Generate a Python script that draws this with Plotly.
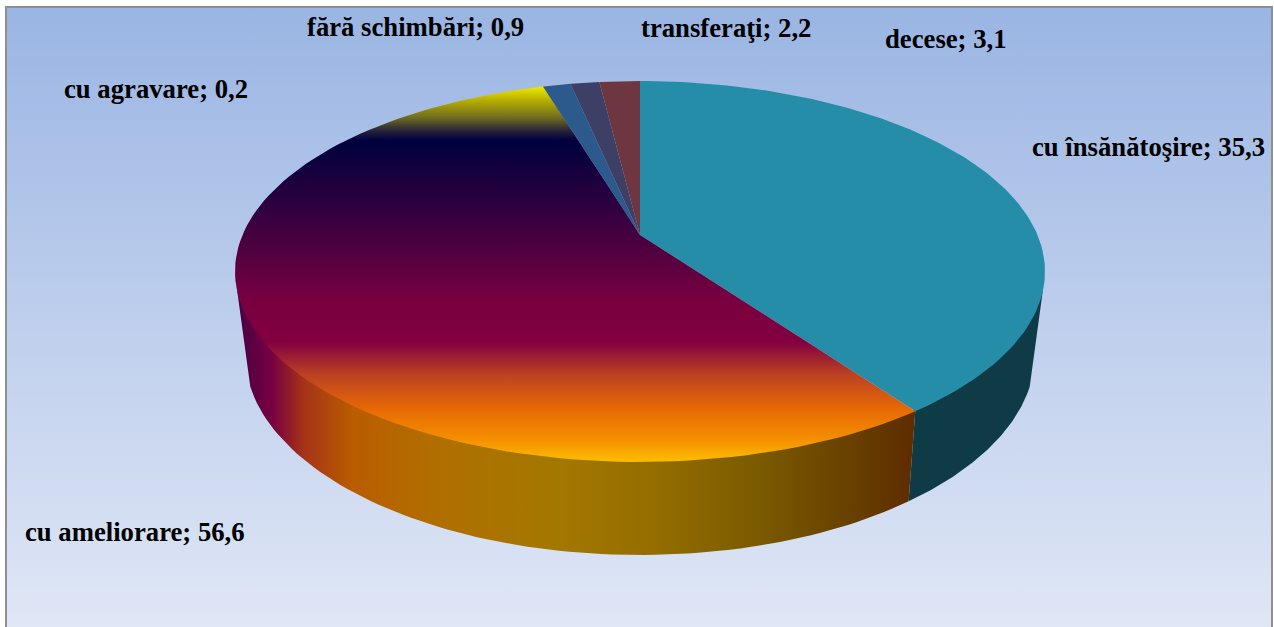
import numpy as np
import plotly.graph_objects as go

categories = ["cu însănătoşire", "cu ameliorare", "cu agravare", "fără schimbări", "transferaţi", "decese"]
values = [35.3, 56.6, 0.2, 0.9, 2.2, 3.1]
label_xy = [(1031, 147), (24, 532), (63, 89), (306, 27), (640, 28), (884, 39)]

W, H = 1274, 627
CX, APEX_Y = 640, 235
TOP_Y, BOT_Y = 81, 462
RX = 405
# perspective of the disc: centre of the pie sits above the centre of the ellipse
C = (BOT_Y + TOP_Y - 2 * APEX_Y) / (BOT_Y - TOP_Y)
A = TOP_Y * (1 + C) - APEX_Y
K = RX * np.sqrt(1 - C ** 2)
EY, RY = (TOP_Y + BOT_Y) / 2, (BOT_Y - TOP_Y) / 2
# lower rim of the wall
B_RX, B_CY, B_RY = 395, 354, 201
TAN_TOP, TAN_BOT = 95.0, 99.4

# The 3D view skews the sweep of the slices: share of the circle -> drawn share
VIEW_IN = [0, 35.91, 93.49, 93.69, 94.61, 96.85, 100]
VIEW_OUT = [0, 40.05, 95.1, 95.33, 96.67, 98.06, 100]


def view_angle(deg):
    return np.interp(deg / 3.6, VIEW_IN, VIEW_OUT) * 3.6


def rim(theta):
    t = np.radians(theta)
    u, v = np.sin(t), np.cos(t)
    d = 1 + C * v
    return CX + K * u / d, (A * v + APEX_Y) / d


def phi_of(theta):
    x, y = rim(theta)
    return np.degrees(np.arctan2((x - CX) / RX, (EY - y) / RY)) % 360


def top_arc(p0, p1, n=80):
    p = np.radians(np.linspace(p0, p1, n))
    return CX + RX * np.sin(p), EY - RY * np.cos(p) - 2


def bot_arc(p0, p1, n=80):
    p = np.radians(np.linspace(p0, p1, n))
    return CX + B_RX * np.sin(p), B_CY - B_RY * np.cos(p)


def vgrad(stops):
    lo, hi = stops[0][0], stops[-1][0]
    return dict(type="vertical", start=lo, stop=hi,
                colorscale=[[(p - lo) / (hi - lo), c] for p, c in stops])


def hgrad(stops):
    lo, hi = stops[0][0], stops[-1][0]
    return dict(type="horizontal", start=lo, stop=hi,
                colorscale=[[(p - lo) / (hi - lo), c] for p, c in stops])


def poly(xs, ys, **kw):
    return go.Scatter(x=xs, y=ys, mode="lines", fill="toself", line=dict(width=0),
                      hoverinfo="skip", showlegend=False, **kw)


sunset = vgrad([(84, "#f8f400"), (100, "#b8b000"), (118, "#6e6a20"), (130, "#2a2638"),
                (140, "#00003e"), (200, "#2a003e"), (250, "#500040"), (300, "#780040"),
                (342, "#820040"), (375, "#bc4222"), (410, "#e86a04"), (440, "#f59000"),
                (464, "#fdc200")])
sunset_wall = hgrad([(240, "#4a0044"), (272, "#780040"), (303, "#a43218"), (352, "#ba5c00"),
                     (430, "#b26e00"), (560, "#a27800"), (650, "#966e00"), (760, "#7a5a00"),
                     (850, "#684000"), (915, "#5e2c00")])
fills = [dict(fillcolor="#258da8"), dict(fillgradient=sunset), dict(fillgradient=sunset),
         dict(fillcolor="#2d5a8c"), dict(fillcolor="#3e3f66"), dict(fillcolor="#6e3640")]

total = sum(values)
cum = np.concatenate([[0], np.cumsum(values)]) / total * 360
edges = [view_angle(c) for c in cum]

fig = go.Figure()

# chart area
fig.add_trace(poly([6, 1272, 1272, 6, 6], [7, 7, 640, 640, 7],
                   fillgradient=vgrad([(7, "#9ab5e3"), (300, "#bccdec"), (640, "#e1e8f6")])))

# walls
phi_b = phi_of(edges[1])
tx, ty = top_arc(TAN_TOP, phi_b)
bx, by = bot_arc(phi_b, TAN_BOT)
fig.add_trace(poly(np.r_[tx, bx, tx[0]], np.r_[ty, by, ty[0]], fillcolor="#0f3b47"))
tx, ty = top_arc(phi_b, 360 - TAN_TOP)
bx, by = bot_arc(360 - TAN_BOT, phi_b)
fig.add_trace(poly(np.r_[tx, bx, tx[0]], np.r_[ty, by, ty[0]], fillgradient=sunset_wall))

# top faces (the agravare sliver shares the gradient, so the ameliorare face runs under it)
for i, name in enumerate(categories):
    end = edges[3] if i == 1 else edges[i + 1]
    x, y = rim(np.linspace(edges[i], end, 120))
    fig.add_trace(poly(np.r_[CX, x, CX], np.r_[APEX_Y, y, APEX_Y], name=name, **fills[i]))

# labels
for name, val, (lx, ly) in zip(categories, values, label_xy):
    fig.add_annotation(x=lx, y=ly, xref="x", yref="y", xanchor="left", yanchor="middle",
                       text=f"<b>{name}; {str(val).replace('.', ',')}</b>", showarrow=False,
                       font=dict(family="Liberation Serif", size=26.7, color="#000000"),
                       borderpad=0)

fig.update_layout(
    width=W, height=H, margin=dict(l=0, r=0, t=0, b=0),
    paper_bgcolor="#ffffff", plot_bgcolor="#ffffff", showlegend=False,
    xaxis=dict(range=[0, W], visible=False, fixedrange=True),
    yaxis=dict(range=[H, 0], visible=False, fixedrange=True),
    shapes=[dict(type="rect", xref="x", yref="y", x0=6, x1=1272, y0=7, y1=640,
                 line=dict(color="#8f8f8f", width=2), fillcolor="rgba(0,0,0,0)")],
)
fig.write_html("out.html", config={"displayModeBar": False},
               post_script="document.body.style.margin='0';document.body.style.overflow='hidden';")
